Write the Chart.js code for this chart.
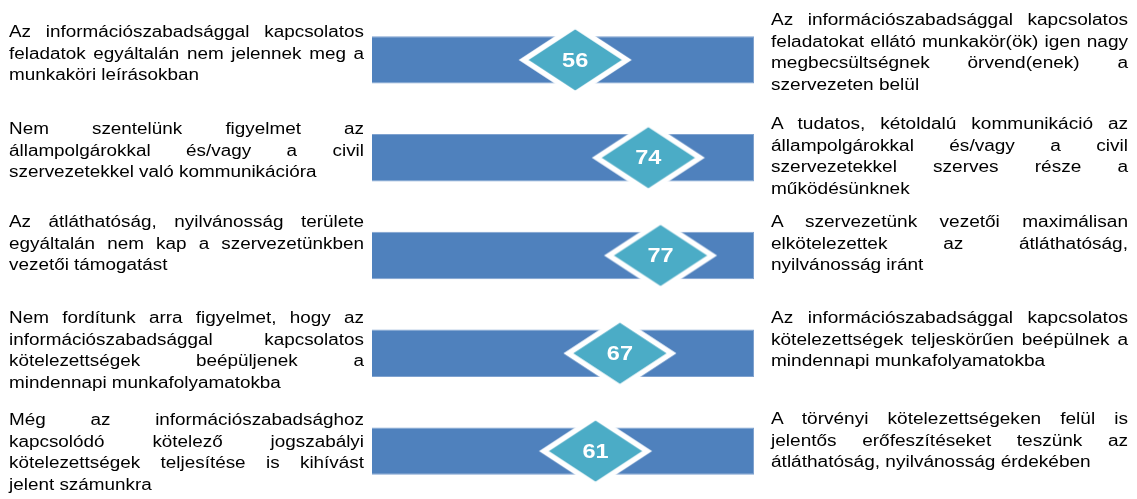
<!DOCTYPE html>
<html>
<head>
<meta charset="utf-8">
<script src="https://cdn.jsdelivr.net/npm/chart.js@4/dist/chart.umd.min.js"></script>
<style>
  html, body { margin: 0; padding: 0; background: #fff; overflow: hidden; }
  #wrap { position: relative; width: 1137px; height: 499px; overflow: hidden; }
  #chart { position: absolute; left: 0; top: 0; }
  .lbl { position: absolute; font: 16px "Liberation Sans", Arial, sans-serif; color: #000; line-height: 21.5px; transform-origin: 0 0; }
  .lbl div { text-align: justify; text-align-last: justify; }
  .lbl div:last-child { text-align-last: left; }
</style>
</head>
<body>
<div id="wrap">
  <canvas id="chart" width="1137" height="511"></canvas>
</div>
<script>
// statements on the "negative" end of each scale
var leftLabels = [
    ['Az információszabadsággal kapcsolatos', 'feladatok egyáltalán nem jelennek meg a', 'munkaköri leírásokban'],
    ['Nem szentelünk figyelmet az', 'állampolgárokkal és/vagy a civil', 'szervezetekkel való kommunikációra'],
    ['Az átláthatóság, nyilvánosság területe', 'egyáltalán nem kap a szervezetünkben', 'vezetői támogatást'],
    ['Nem fordítunk arra figyelmet, hogy az', 'információszabadsággal kapcsolatos', 'kötelezettségek beépüljenek a', 'mindennapi munkafolyamatokba'],
    ['Még az információszabadsághoz', 'kapcsolódó kötelező jogszabályi', 'kötelezettségek teljesítése is kihívást', 'jelent számunkra']
];
// statements on the "positive" end
var rightLabels = [
    ['Az információszabadsággal kapcsolatos', 'feladatokat ellátó munkakör(ök) igen nagy', 'megbecsültségnek örvend(enek) a', 'szervezeten belül'],
    ['A tudatos, kétoldalú kommunikáció az', 'állampolgárokkal és/vagy a civil', 'szervezetekkel szerves része a', 'működésünknek'],
    ['A szervezetünk vezetői maximálisan', 'elkötelezettek az átláthatóság,', 'nyilvánosság iránt'],
    ['Az információszabadsággal kapcsolatos', 'kötelezettségek teljeskörűen beépülnek a', 'mindennapi munkafolyamatokba'],
    ['A törvényi kötelezettségeken felül is', 'jelentős erőfeszítéseket teszünk az', 'átláthatóság, nyilvánosság érdekében']
];
var scaleMax = [100, 100, 100, 100, 100];
var scores = [56, 74, 77, 67, 61];

var categories = leftLabels.map(function (l) { return l.join(' '); });

// text block placement (top of first line)
var leftTops = [21, 118, 211, 307, 409];
var rightTops = [9, 113, 211, 307, 408];

function addBlock(lines, x, top, width, stretch) {
    var box = document.createElement('div');
    box.className = 'lbl';
    box.style.left = x + 'px';
    box.style.top = top + 'px';
    box.style.width = (width / stretch) + 'px';
    box.style.transform = 'scaleX(' + stretch + ')';
    lines.forEach(function (line) {
        var d = document.createElement('div');
        d.textContent = line;
        box.appendChild(d);
    });
    document.getElementById('wrap').appendChild(box);
}
leftLabels.forEach(function (lines, i) { addBlock(lines, 9, leftTops[i], 355, 1.18); });
rightLabels.forEach(function (lines, i) { addBlock(lines, 771, rightTops[i], 357, 1.19); });

// diamond marker used as point style
function makeDiamond() {
    var c = document.createElement('canvas');
    c.width = 118;
    c.height = 80;
    var g = c.getContext('2d');
    var cx = 59, cy = 40, hw = 51.5, hh = 33.8;
    g.beginPath();
    g.moveTo(cx - hw, cy);
    g.lineTo(cx, cy - hh);
    g.lineTo(cx + hw, cy);
    g.lineTo(cx, cy + hh);
    g.closePath();
    g.fillStyle = '#4BACC6';
    g.fill();
    g.lineJoin = 'miter';
    g.lineWidth = 5.5;
    g.strokeStyle = '#ffffff';
    g.stroke();
    return c;
}
var diamond = makeDiamond();

var scoreLabels = {
    id: 'scoreLabels',
    afterDatasetsDraw: function (chart) {
        var meta = chart.getDatasetMeta(1);
        var ctx = chart.ctx;
        ctx.save();
        ctx.fillStyle = '#ffffff';
        ctx.font = 'bold 21px "Liberation Sans", Arial, sans-serif';
        ctx.textAlign = 'center';
        ctx.textBaseline = 'middle';
        meta.data.forEach(function (pt, i) {
            ctx.save();
            ctx.translate(pt.x, pt.y + 1);
            ctx.scale(1.12, 1);
            ctx.fillText(String(scores[i]), 0, 0);
            ctx.restore();
        });
        ctx.restore();
    }
};

var ctx = document.getElementById('chart').getContext('2d');
var chart = new Chart(ctx, {
    type: 'bar',
    data: {
        labels: categories,
        datasets: [
            {
                label: 'Skála',
                data: scaleMax,
                backgroundColor: '#4F81BD',
                borderColor: '#7FA2CF',
                borderWidth: 1,
                borderSkipped: false,
                barPercentage: 0.97,
                categoryPercentage: 0.5,
                order: 1
            },
            {
                label: 'Átlag',
                type: 'line',
                data: scores,
                showLine: false,
                pointStyle: diamond,
                pointRadius: 10,
                order: 0
            }
        ]
    },
    options: {
        indexAxis: 'y',
        responsive: false,
        devicePixelRatio: 1,
        animation: false,
        layout: { padding: { left: 372, right: 383, top: 11, bottom: 0 } },
        plugins: { legend: { display: false }, tooltip: { enabled: false } },
        scales: {
            x: { type: 'linear', min: 6, max: 100, display: false },
            y: { display: false }
        }
    },
    plugins: [scoreLabels]
});
</script>
</body>
</html>
